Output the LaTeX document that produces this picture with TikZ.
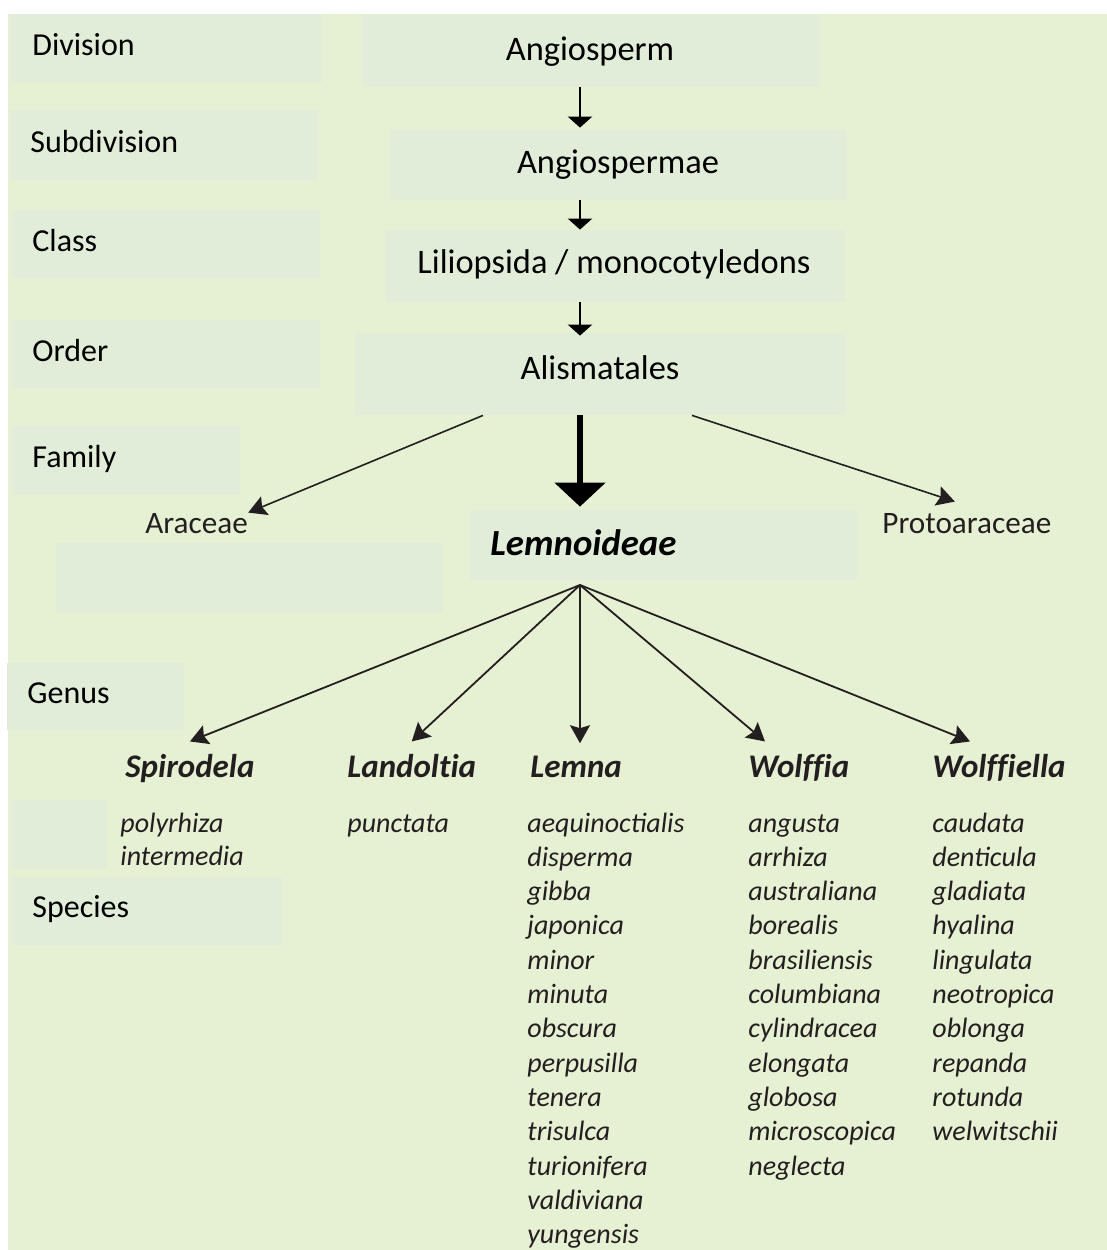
\documentclass[tikz,border=0pt]{standalone}
\usepackage{fontspec}
\setmainfont{Carlito}
\usetikzlibrary{arrows.meta, fit, positioning}
\definecolor{leafbg}{HTML}{E6F0D3}
\definecolor{boxbg}{HTML}{E1EDD9}
\definecolor{inkgray}{HTML}{231F20}

\begin{document}
\begin{tikzpicture}[x=0.5pt, y=-0.5pt,
		rankbox/.style={fill=boxbg, draw=none, inner sep=0pt},
		rank/.style={anchor=base west, inner sep=0pt, font=\fontsize{16}{19}\selectfont},
		taxon/.style={anchor=base, inner sep=0pt, font=\fontsize{17.2}{20}\selectfont},
		family/.style={anchor=base west, inner sep=0pt, text=inkgray, font=\fontsize{15.6}{18}\selectfont},
		genus/.style={anchor=base west, inner xsep=0pt, inner ysep=6pt, text=inkgray, font=\fontsize{16.5}{19}\selectfont\bfseries\itshape\addfontfeatures{Ligatures=NoCommon}},
		species/.style={anchor=base west, inner sep=0pt, text=inkgray, font=\fontsize{14}{17}\selectfont\itshape},
		stem/.style={line width=1.2pt, -{Triangle[length=5.5pt, width=12pt]}},
		branch/.style={line width=0.9pt, inkgray, -{Stealth[length=9pt, width=10pt, inset=1.5pt]}}
	]
		\useasboundingbox (0,0) rectangle (1107,1250);
		\fill[white] (0,0) rectangle (1107,1250);
		\fill[leafbg] (8,14) rectangle (1107,1250);
		
		% boxes behind the labels
		\node[rankbox, fit={(10,14) (322,83)}] (divbox) {};
		\node[rankbox, fit={(10,110) (318,180)}] (subbox) {};
		\node[rankbox, fit={(12,210) (320,278)}] (classbox) {};
		\node[rankbox, fit={(12,320) (320,388)}] (orderbox) {};
		\node[rankbox, fit={(12,426) (240,495)}] (familybox) {};
		\node[rankbox, fit={(56,543) (443,613)}] (blankbox) {};
		\node[rankbox, fit={(7,663) (184,730)}] (genusbox) {};
		\node[rankbox, fit={(12,800) (107,869)}] (sidebox) {};
		\node[rankbox, fit={(12,877) (282,945)}] (speciesbox) {};
		\node[rankbox, fit={(362,15) (820,87)}] (angiobox) {};
		\node[rankbox, fit={(390,130) (847,200)}] (angiomaebox) {};
		\node[rankbox, fit={(385,230) (845,302)}] (liliobox) {};
		\node[rankbox, fit={(355,333) (846,415)}] (alismabox) {};
		\node[rankbox, fit={(470,510) (857,580)}] (lemnobox) {};
		
		% ranks:
		\node[rank] (division) at (32,55) {Division};
		\node[rank] (subdivision) at (30,152) {Subdivision};
		\node[rank] (class) at (32,251) {Class};
		\node[rank] (order) at (32,361) {Order};
		\node[rank] (familyrank) at (32,467) {Family};
		\node[rank] (genusrank) at (27,703) {Genus};
		\node[rank] (speciesrank) at (32,917) {Species};
		
		% taxa:
		\node[taxon] (angio) at (590,60) {Angiosperm};
		\node[taxon] (angiomae) at (618,173) {Angiospermae};
		\node[taxon] (lilio) at (614,273) {Liliopsida / monocotyledons};
		\node[taxon] (alisma) at (600,379) {Alismatales};
		\node[anchor=base west, inner sep=0pt, font=\fontsize{18.4}{21}\selectfont\bfseries\itshape] (lemno) at (490,555) {Lemnoideae};
		\node[family] (araceae) at (145,533) {Araceae};
		\node[family] (protoar) at (882,533) {Protoaraceae};
		
		% main line
		\coordinate (spine) at (580,0);
		\draw[stem] (angiobox.south -| spine) -- ([yshift=1pt]angiomaebox.north -| spine);
		\draw[stem] (angiomaebox.south -| spine) -- (liliobox.north -| spine);
		\draw[stem] (liliobox.south -| spine) -- ([yshift=-1.5pt]alismabox.north -| spine);
		\draw[line width=2.8pt, -{Triangle[length=12pt, width=25pt]}] (alismabox.south -| spine) -- ([yshift=1.5pt]lemnobox.north -| spine);
		
		% side families
		\coordinate (leftfoot) at (483,0);
		\coordinate (rightfoot) at (692,0);
		\draw[branch, line width=0.8pt] (alismabox.south -| leftfoot) -- (araceae.north east);
		\draw[branch, line width=0.8pt] (alismabox.south -| rightfoot) -- ([xshift=-6pt, yshift=5.5pt]protoar.north);
		
		% genera
		\node[genus] (spirodela) at (125,777) {Spirodela};
		\node[genus] (landoltia) at (347,777) {Landoltia};
		\node[genus] (lemna) at (530,777) {Lemna};
		\node[genus] (wolffia) at (748,777) {Wolffia};
		\node[genus] (wolffiella) at (932,777) {Wolffiella};
		
		\coordinate (hub) at (580,585);
		\draw[branch] (hub) -- (spirodela.north);
		\draw[branch] (hub) -- (landoltia.north);
		\draw[branch] (hub) -- (lemna.north -| hub);
		\draw[branch] (hub) -- ([xshift=8.5pt]wolffia.north west);
		\draw[branch] (hub) -- ([xshift=19pt]wolffiella.north west);
		
		% species
		\foreach \sp [count=\i from 0] in {polyrhiza, intermedia}
			\node[species] (spiro-\i) at (120,832+33*\i) {\sp};
		\node[species] (lando-0) at (347,832) {punctata};
		\foreach \sp [count=\i from 0] in {aequinoctialis, disperma, gibba, japonica, minor, minuta, obscura, perpusilla, tenera, trisulca, turionifera, valdiviana, yungensis}
			\node[species] (lemna-\i) at (527,832+34.3*\i) {\sp};
		\foreach \sp [count=\i from 0] in {angusta, arrhiza, australiana, borealis, brasiliensis, columbiana, cylindracea, elongata, globosa, microscopica, neglecta}
			\node[species] (wolf-\i) at (748,832+34.3*\i) {\sp};
		\foreach \sp [count=\i from 0] in {caudata, denticula, gladiata, hyalina, lingulata, neotropica, oblonga, repanda, rotunda, welwitschii}
			\node[species] (wolfi-\i) at (932,832+34.3*\i) {\sp};
	\end{tikzpicture}
\end{document}
